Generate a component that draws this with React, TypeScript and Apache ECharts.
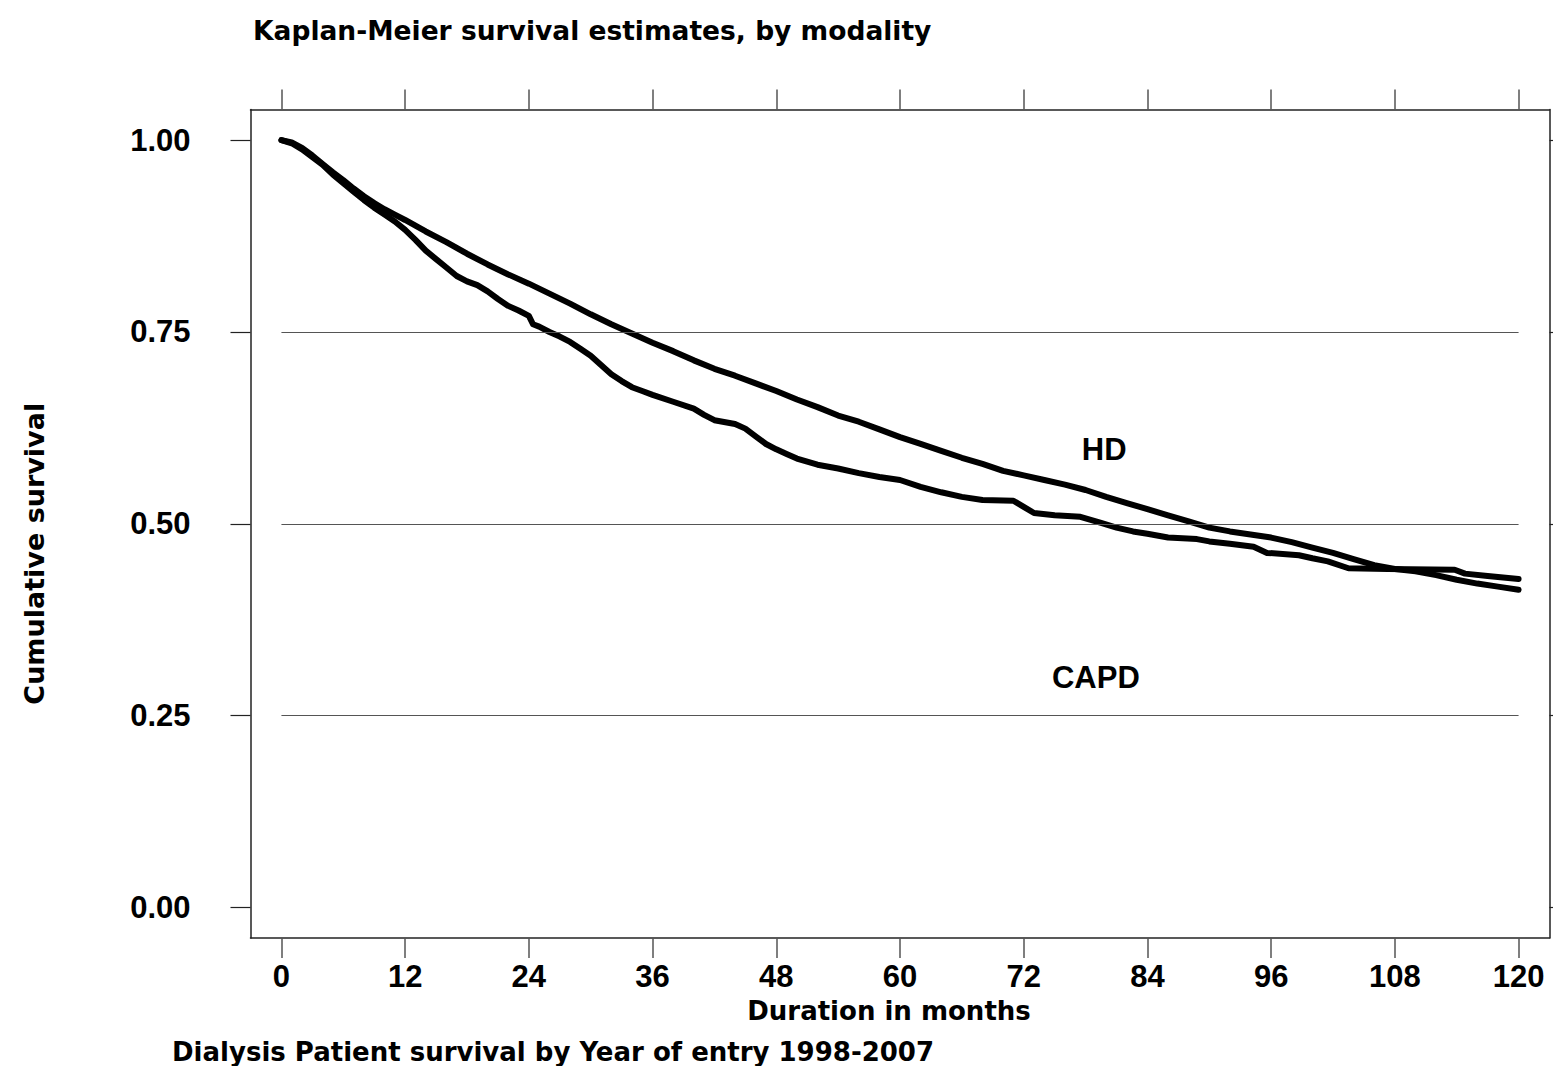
import React, { useEffect, useRef } from "react";
import * as echarts from "echarts";

// ---- Data ----
const xTickValues = [0, 12, 24, 36, 48, 60, 72, 84, 96, 108, 120];
const yTickValues = [0, 0.25, 0.5, 0.75, 1];
const gridLevels = [0.25, 0.5, 0.75];

const hdMonths = [0, 1, 2, 3, 4, 5, 6, 7, 8, 9, 10, 11, 12, 14, 16, 18, 20, 22, 24, 26, 28, 30, 32, 34, 36, 38, 40, 42, 44, 46, 48, 50, 52, 54, 56, 58, 60, 62, 64, 66, 68, 70, 72, 74, 76, 78, 80, 82, 84, 86, 88, 90, 92, 94, 96, 98, 100, 102, 104, 106, 108, 110, 112, 114, 116, 118, 120];
const hdSurv = [1.0, 0.997, 0.99, 0.98, 0.969, 0.958, 0.948, 0.937, 0.927, 0.918, 0.91, 0.903, 0.896, 0.881, 0.867, 0.852, 0.838, 0.825, 0.813, 0.8, 0.787, 0.773, 0.76, 0.748, 0.736, 0.725, 0.713, 0.702, 0.693, 0.683, 0.673, 0.662, 0.652, 0.641, 0.633, 0.623, 0.613, 0.604, 0.595, 0.586, 0.578, 0.569, 0.563, 0.557, 0.551, 0.544, 0.535, 0.527, 0.519, 0.511, 0.503, 0.495, 0.49, 0.486, 0.482, 0.476, 0.469, 0.462, 0.454, 0.446, 0.441, 0.438, 0.433, 0.427, 0.422, 0.418, 0.414];

const capdMonths = [0, 1, 2, 3, 4, 5, 6, 7, 8, 9, 10, 11, 12, 13, 14, 15, 16, 17, 18, 19, 20, 21, 22, 23, 24, 24.4, 25, 26, 27, 28, 29, 30, 31, 32, 33, 34, 35, 36, 38, 40, 41, 42, 44, 45, 46, 47, 48, 49, 50, 52, 54, 56, 58, 60, 62, 64, 66, 68, 71, 72, 73, 75, 77.5, 79.5, 81, 82.6, 84, 86, 88.8, 90, 92, 94.3, 95.6, 98.7, 100, 101.5, 103.5, 107.3, 113.8, 114.8, 117, 120];
const capdSurv = [1.0, 0.996, 0.988, 0.978, 0.968, 0.955, 0.944, 0.933, 0.922, 0.912, 0.903, 0.894, 0.883, 0.87, 0.856, 0.845, 0.834, 0.823, 0.816, 0.811, 0.803, 0.793, 0.784, 0.778, 0.771, 0.76, 0.757, 0.75, 0.744, 0.737, 0.728, 0.719, 0.707, 0.695, 0.686, 0.678, 0.673, 0.668, 0.659, 0.65, 0.642, 0.635, 0.63, 0.624, 0.614, 0.604, 0.597, 0.591, 0.585, 0.577, 0.572, 0.566, 0.561, 0.557, 0.548, 0.541, 0.535, 0.531, 0.53, 0.522, 0.514, 0.511, 0.509, 0.501, 0.495, 0.49, 0.487, 0.482, 0.48, 0.477, 0.474, 0.47, 0.462, 0.459, 0.455, 0.451, 0.442, 0.441, 0.44, 0.435, 0.432, 0.428];

const curveLabels = ["HD", "CAPD"];
const curveLabelMonths = [79.8, 79];
const curveLabelSurv = [0.597, 0.3];

const titleText = "Kaplan-Meier survival estimates, by modality";
const footerText = "Dialysis Patient survival by Year of entry 1998-2007";
const xName = "Duration in months";
const yName = "Cumulative survival";

const TICK_FONT = "'Liberation Sans', Arial, Helvetica, sans-serif";
const TITLE_FONT = "'DejaVu Sans', sans-serif";

export default function App() {
  const ref = useRef<HTMLDivElement>(null);

  useEffect(() => {
    if (!ref.current) return;
    const chart = echarts.init(ref.current, null, { renderer: "svg" });

    const zip = (xs: number[], ys: number[]) => xs.map((x, i) => [x, ys[i]]);

    const axisLineStyle = { color: "#222", width: 1.5 };
    const tickStyle = { color: "#555", width: 1.5 };

    const option: any = {
      animation: false,
      backgroundColor: "#fff",
      title: [
        {
          text: titleText,
          left: 248,
          top: 12,
          textStyle: { fontFamily: TITLE_FONT, fontWeight: "bold", fontSize: 26.5, color: "#000" },
        },
        {
          text: footerText,
          left: 167,
          top: 1034,
          textStyle: { fontFamily: TITLE_FONT, fontWeight: "bold", fontSize: 26, color: "#000" },
        },
      ],
      grid: { left: 250.5, top: 109.5, width: 1299, height: 828.5, containLabel: false },
      xAxis: [
        {
          type: "value",
          position: "bottom",
          min: -3,
          max: 123,
          name: xName,
          nameLocation: "middle",
          nameGap: 60,
          nameTextStyle: {
            fontFamily: TITLE_FONT,
            fontWeight: "bold",
            fontSize: 26,
            color: "#000",
            padding: [0, 22, 0, 0],
          },
          axisLine: { show: true, onZero: false, lineStyle: axisLineStyle },
          axisTick: { show: true, inside: false, length: 20, customValues: xTickValues, lineStyle: tickStyle },
          axisLabel: {
            show: true,
            customValues: xTickValues,
            margin: 23,
            fontFamily: TICK_FONT,
            fontWeight: "bold",
            fontSize: 31,
            color: "#000",
          },
          splitLine: { show: false },
        },
        {
          type: "value",
          position: "top",
          min: -3,
          max: 123,
          axisLine: { show: true, onZero: false, lineStyle: axisLineStyle },
          axisTick: { show: true, inside: false, length: 20, customValues: xTickValues, lineStyle: tickStyle },
          axisLabel: { show: false },
          splitLine: { show: false },
        },
      ],
      yAxis: [
        {
          type: "value",
          position: "left",
          min: -0.04,
          max: 1.04,
          name: yName,
          nameLocation: "middle",
          nameGap: 203,
          nameTextStyle: {
            fontFamily: TITLE_FONT,
            fontWeight: "bold",
            fontSize: 27,
            color: "#000",
            padding: [0, 60, 0, 0],
          },
          axisLine: { show: true, onZero: false, lineStyle: axisLineStyle },
          axisTick: { show: true, inside: false, length: 20, customValues: yTickValues, lineStyle: { color: "#222", width: 1.2 } },
          axisLabel: {
            show: true,
            customValues: yTickValues,
            margin: 60,
            formatter: (v: number) => v.toFixed(2),
            fontFamily: TICK_FONT,
            fontWeight: "bold",
            fontSize: 31,
            color: "#000",
          },
          splitLine: { show: false },
        },
        {
          type: "value",
          position: "right",
          min: -0.04,
          max: 1.04,
          axisLine: { show: true, onZero: false, lineStyle: axisLineStyle },
          axisTick: { show: true, inside: false, length: 20, customValues: yTickValues, lineStyle: { color: "#222", width: 1.2 } },
          axisLabel: { show: false },
          splitLine: { show: false },
        },
      ],
      series: [
        {
          name: "gridlines",
          type: "line",
          data: [],
          z: 1,
          silent: true,
          markLine: {
            silent: true,
            symbol: "none",
            label: { show: false },
            lineStyle: { color: "#555", width: 1, type: "solid" },
            data: gridLevels.map((g) => [{ coord: [0, g] }, { coord: [120, g] }]),
          },
        },
        {
          name: "HD",
          type: "line",
          data: zip(hdMonths, hdSurv),
          showSymbol: false,
          symbol: "none",
          z: 3,
          lineStyle: { color: "#000", width: 6, join: "round", cap: "round" },
        },
        {
          name: "CAPD",
          type: "line",
          data: zip(capdMonths, capdSurv),
          showSymbol: false,
          symbol: "none",
          z: 3,
          lineStyle: { color: "#000", width: 6, join: "round", cap: "round" },
        },
        {
          name: "labels",
          type: "scatter",
          symbolSize: 0.01,
          itemStyle: { color: "#000", opacity: 1 },
          z: 4,
          silent: true,
          data: curveLabels.map((t, i) => ({ value: [curveLabelMonths[i], curveLabelSurv[i]], name: t })),
          label: {
            show: true,
            position: "inside",
            formatter: (p: any) => p.name,
            fontFamily: TICK_FONT,
            fontWeight: "bold",
            fontSize: 31,
            color: "#000",
            opacity: 1,
            textBorderWidth: 0,
          },
        },
      ],
    };

    chart.setOption(option);
    return () => chart.dispose();
  }, []);

  return (
    <div
      ref={ref}
      style={{ position: "fixed", left: 0, top: 0, width: 1553, height: 1066, background: "#fff" }}
    />
  );
}
